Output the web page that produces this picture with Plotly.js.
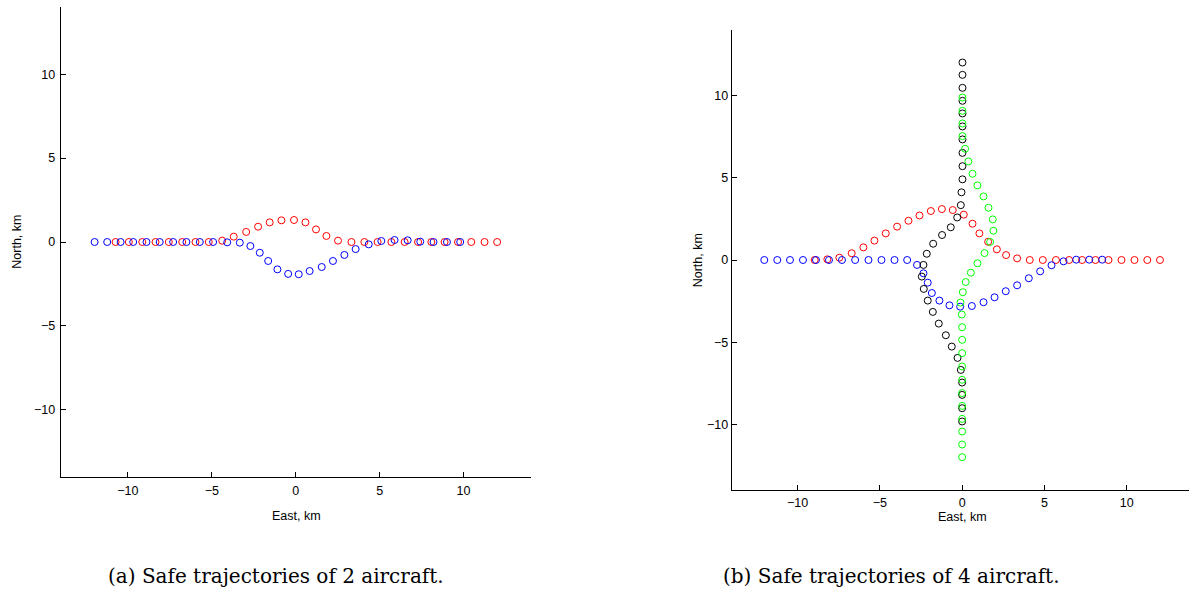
<!DOCTYPE html>
<html>
<head>
<meta charset="utf-8">
<script src="https://cdn.plot.ly/plotly-3.0.1.min.js"></script>
<style>html,body{margin:0;padding:0;background:#fff;}#chart{width:1189px;height:589px;}</style>
</head>
<body>
<div id="chart"></div>
<script>
// ---- (a) 2 aircraft ----
const aRedEast  = [-10.73,-9.94,-9.14,-8.35,-7.56,-6.76,-5.97,-5.18,-4.38,-3.69,-2.95,-2.24,-1.55,-0.85,-0.10,0.58,1.21,1.83,2.52,3.32,4.09,4.88,5.70,6.49,7.29,8.08,8.87,9.67,10.46,11.25,12.00];
const aRedNorth = [0,0,0,0,0,0,0,0,0.08,0.32,0.60,0.91,1.17,1.29,1.31,1.17,0.75,0.36,0.08,0,0,0,0,0,0,0,0,0,0,0,0];
const aBlueEast  = [-11.98,-11.23,-10.43,-9.68,-8.89,-8.10,-7.30,-6.51,-5.71,-4.92,-4.08,-3.33,-2.70,-2.14,-1.64,-1.09,-0.45,0.18,0.83,1.55,2.22,2.90,3.57,4.35,5.10,5.89,6.67,7.42,8.21,9.01,9.80];
const aBlueNorth = [0,0,0,0,0,0,0,0,0,0,-0.02,-0.04,-0.24,-0.64,-1.13,-1.63,-1.90,-1.92,-1.73,-1.49,-1.13,-0.77,-0.42,-0.14,0.06,0.12,0.10,0.02,0,0,0];

// ---- (b) 4 aircraft ----
const bBlueEast  = [-12.02,-11.23,-10.46,-9.67,-8.88,-8.09,-7.30,-6.50,-5.69,-4.90,-4.11,-3.34,-2.74,-2.35,-2.09,-1.84,-1.38,-0.77,-0.12,0.59,1.30,1.97,2.65,3.34,4.05,4.74,5.43,6.16,6.93,7.72,8.51];
const bBlueNorth = [0,0,0,0,0,0,0,0,0,0,0,0,-0.30,-0.81,-1.38,-2.01,-2.47,-2.76,-2.84,-2.80,-2.57,-2.27,-1.90,-1.54,-1.11,-0.69,-0.32,-0.08,0.02,0.02,0.02];
const bRedEast  = [-8.96,-8.19,-7.46,-6.71,-6.00,-5.33,-4.64,-3.95,-3.26,-2.59,-1.90,-1.23,-0.57,0.10,0.63,1.05,1.58,2.11,2.67,3.34,4.11,4.90,5.70,6.50,7.29,8.10,8.89,9.68,10.47,11.25,12.02];
const bRedNorth = [0,0.04,0.14,0.41,0.77,1.18,1.62,2.03,2.39,2.71,2.98,3.10,3.04,2.76,2.21,1.62,1.11,0.65,0.30,0.10,0,0,0,0,0,0,0,0,0,0,0];
const bBlackEast  = [0.02,0.02,0.02,0.02,0.02,0.02,0.02,0.02,0.02,0.02,-0.04,-0.08,-0.30,-0.69,-1.22,-1.76,-2.15,-2.35,-2.45,-2.33,-2.09,-1.78,-1.42,-0.99,-0.63,-0.28,-0.08,0,0,0,0];
const bBlackNorth = [12.02,11.27,10.48,9.69,8.92,8.13,7.34,6.52,5.71,4.91,4.12,3.34,2.59,1.99,1.52,0.99,0.38,-0.30,-1.01,-1.76,-2.47,-3.16,-3.87,-4.58,-5.27,-5.96,-6.69,-7.46,-8.21,-9.02,-9.83];
const bGreenEast  = [0,0,0,0,0,0,0,0,0,0,0,-0.02,-0.10,0.04,0.22,0.53,0.93,1.36,1.70,1.90,1.86,1.60,1.30,0.93,0.63,0.38,0.18,0.02,0.02,0.02,0.02];
const bGreenNorth = [-12.0,-11.23,-10.44,-9.67,-8.88,-8.10,-7.29,-6.48,-5.67,-4.86,-4.09,-3.32,-2.59,-1.96,-1.34,-0.77,-0.20,0.42,1.10,1.78,2.47,3.18,3.87,4.54,5.25,6.00,6.77,7.54,8.31,9.08,9.89];

const tickValues = [-10, -5, 0, 5, 10];
const xTitle = 'East, km';
const yTitle = 'North, km';
const captionA = '(a) Safe trajectories of 2 aircraft.';
const captionB = '(b) Safe trajectories of 4 aircraft.';

const W = 1189, H = 589;
const px = v => v / W;
const py = v => 1 - v / H;

function mk(x, y, color, xa, ya) {
  return {
    type: 'scatter', mode: 'markers', x: x, y: y, xaxis: xa, yaxis: ya,
    marker: {symbol: 'circle-open', size: 7, color: color, line: {width: 1, color: color}},
    hoverinfo: 'skip', showlegend: false, cliponaxis: false
  };
}

const data = [
  mk(aRedEast, aRedNorth, '#ff0000', 'x', 'y'),
  mk(aBlueEast, aBlueNorth, '#0000ff', 'x', 'y'),
  mk(bRedEast, bRedNorth, '#ff0000', 'x2', 'y2'),
  mk(bBlueEast, bBlueNorth, '#0000ff', 'x2', 'y2'),
  mk(bBlackEast, bBlackNorth, '#000000', 'x2', 'y2'),
  mk(bGreenEast, bGreenNorth, '#00ff00', 'x2', 'y2')
];

const tickFont = {family: 'Liberation Sans, Arial, sans-serif', size: 12.5, color: '#000'};
function ax(extra) {
  return Object.assign({
    showline: true, linecolor: '#000', linewidth: 1, mirror: false,
    ticks: 'inside', ticklen: 5, tickwidth: 1, tickcolor: '#000',
    tickvals: tickValues, showgrid: false, zeroline: false,
    tickfont: tickFont, fixedrange: true, automargin: false
  }, extra);
}

const titleFont = {family: 'Liberation Sans, Arial, sans-serif', size: 12.5, color: '#000'};
const capFont = {family: 'DejaVu Serif, Liberation Serif, serif', size: 20, color: '#000'};

const layout = {
  width: W, height: H, autosize: false,
  margin: {l: 0, r: 0, t: 0, b: 0, pad: 0},
  paper_bgcolor: '#fff', plot_bgcolor: '#fff',
  showlegend: false,
  xaxis: ax({domain: [px(60.7), px(530.7)], range: [-14, 14], anchor: 'y', ticklabelstandoff: 2}),
  yaxis: ax({domain: [py(477), py(7)], range: [-14, 14], anchor: 'x', ticklabelstandoff: 2}),
  xaxis2: ax({domain: [px(731.7), 1], range: [-14, (1189 - 962) / 16.47], anchor: 'y2', ticklabelstandoff: 1}),
  yaxis2: ax({domain: [py(490), py(30)], range: [-14, 14], anchor: 'x2', ticklabelstandoff: 0}),
  annotations: [
    {text: xTitle, xref: 'paper', yref: 'paper', x: px(296), y: py(516), xanchor: 'center', yanchor: 'middle', showarrow: false, font: titleFont},
    {text: yTitle, xref: 'paper', yref: 'paper', x: px(16.7), y: py(242), xanchor: 'center', yanchor: 'middle', textangle: -90, showarrow: false, font: titleFont},
    {text: xTitle, xref: 'paper', yref: 'paper', x: px(962), y: py(517), xanchor: 'center', yanchor: 'middle', showarrow: false, font: titleFont},
    {text: yTitle, xref: 'paper', yref: 'paper', x: px(698.3), y: py(260), xanchor: 'center', yanchor: 'middle', textangle: -90, showarrow: false, font: titleFont},
    {text: captionA, xref: 'paper', yref: 'paper', x: px(275.5), y: py(576), xanchor: 'center', yanchor: 'middle', showarrow: false, font: capFont},
    {text: captionB, xref: 'paper', yref: 'paper', x: px(891), y: py(576), xanchor: 'center', yanchor: 'middle', showarrow: false, font: capFont}
  ]
};

Plotly.newPlot('chart', data, layout, {staticPlot: true, displayModeBar: false});
</script>
</body>
</html>
